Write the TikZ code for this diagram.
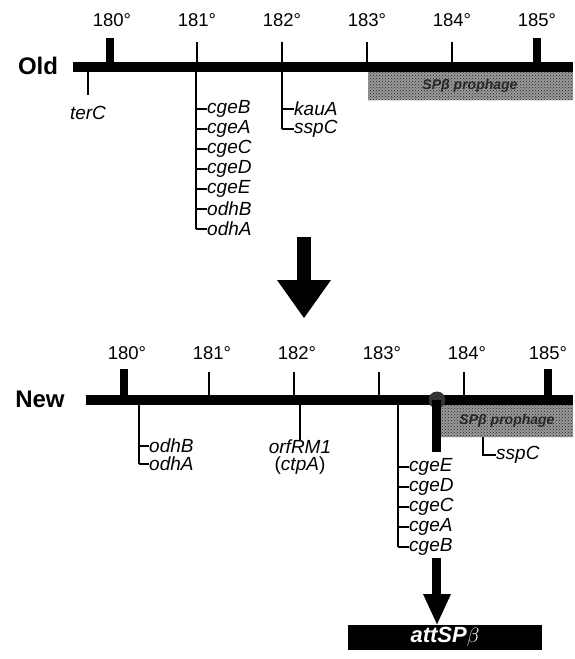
\documentclass[tikz,border=0pt]{standalone}
\usepackage{fontspec}
\setmainfont{Liberation Sans}
\usetikzlibrary{patterns}
\begin{document}
\begin{tikzpicture}[x=1pt,y=-1pt,
  deg/.style={font=\fontsize{18.5}{18.5}\selectfont, inner sep=0pt},
  big/.style={font=\fontsize{24}{24}\selectfont\bfseries, inner sep=0pt},
  gene/.style={font=\fontsize{19}{19}\selectfont\itshape, inner sep=0pt, anchor=west},
  genec/.style={font=\fontsize{19}{19}\selectfont\itshape, inner sep=0pt},
  gline/.style={line width=1.1pt},
  tickline/.style={line width=1.3pt},
  prophage/.style={fill=black!40, postaction={pattern=crosshatch dots, pattern color=black!85}},
  prolabel/.style={font=\fontsize{14}{14}\selectfont\bfseries\itshape, text=black!85, inner sep=0pt},
  attbox/.style={fill=black, text=white, minimum width=194pt, minimum height=25pt, inner sep=0pt,
    font=\fontsize{22}{22}\selectfont\bfseries\itshape}
]
\useasboundingbox (0,0) rectangle (575,659);

% ---------------- Old map ----------------
\node[big] (old) at (38,66) {Old};
\fill (73,62) rectangle (573,72);
\path[prophage] (368,72) rectangle (573,100);
\node[prolabel] (pro1) at (470,86) {SPβ prophage};
\fill (106,38) rectangle (114,62);
\fill (533,38) rectangle (541,62);
\foreach \x in {197,282,367,452} \draw[tickline] (\x,42) -- (\x,62);
\foreach \x/\t in {112/180,197/181,282/182,367/183,452/184,537/185}
  \node[deg] (od\t) at (\x,20) {\t°};

% terC
\coordinate (tc0) at (88,72);
\node[genec] (terC) at (88,113) {terC};
\draw[gline] (tc0) -- (88,95);

% cge list (old)
\coordinate (c0) at (196,72);
\coordinate (cend) at (196,229);
\draw[gline] (c0) -- (cend);
\foreach \g [count=\i from 0] in {cgeB,cgeA,cgeC,cgeD,cgeE,odhB,odhA} {
  \pgfmathsetmacro\yy{109+20*\i}
  \node[gene] (o\g) at (207,\yy) {\g};
  \draw[gline] (196,\yy) -- (o\g.west);
}
% kauA / sspC
\coordinate (k0) at (282,72);
\draw[gline] (k0) -- (282,129);
\node[gene] (okauA) at (294,109) {kauA};
\node[gene] (osspC) at (294,129) {sspC};
\draw[gline] (282,109) -- (okauA.west);
\draw[gline] (282,129) -- (osspC.west);

% big arrow
\fill (297,237) rectangle (311,280);
\fill (277,280) -- (331,280) -- (304,318) -- cycle;

% ---------------- New map ----------------
\node[big] (new) at (40,399) {New};
\fill (86,395) rectangle (573,405);
\path[prophage] (440,405) rectangle (573,437);
\node[prolabel] (pro2) at (507,421) {SPβ prophage};
\fill (120,369) rectangle (128,395);
\fill (544,369) rectangle (552,395);
\foreach \x in {209,294,379,464} \draw[tickline] (\x,372) -- (\x,395);
\foreach \x/\t in {127/180,212/181,297/182,382/183,467/184,548/185}
  \node[deg] (nd\t) at (\x,353) {\t°};

% ball and insertion bar
\fill[black!80] (437,400) circle (8.5);
\fill (432,400) rectangle (441,452);

% odhB / odhA
\draw[gline] (139,405) -- (139,464);
\node[gene] (nodhB) at (149,446) {odhB};
\node[gene] (nodhA) at (149,464) {odhA};
\draw[gline] (139,446) -- (nodhB.west);
\draw[gline] (139,464) -- (nodhA.west);

% orfRM1
\node[genec] (orf) at (300,447) {orfRM1};
\node[genec] (ctp) at (300,466) {\upshape(\itshape ctpA\upshape)};
\draw[gline] (300,405) -- (orf.north);

% cge list (new)
\draw[gline] (398,405) -- (398,547);
\foreach \g [count=\i from 0] in {cgeE,cgeD,cgeC,cgeA,cgeB} {
  \pgfmathsetmacro\yy{467+20*\i}
  \node[gene] (n\g) at (409,\yy) {\g};
  \draw[gline] (398,\yy) -- (n\g.west);
}

% sspC (new)
\node[gene] (nsspC) at (496,455) {sspC};
\draw[gline] (483,437) -- (483,455) -- (nsspC.west);

% arrow to attSPbeta
\node[attbox] (att) at (445,637) {attSP\textmd{\upshape$\beta$}};
\fill (432,558) rectangle (441,594);
\fill (423,594) -- (451,594) -- (att.north -| 437,0) -- cycle;
\end{tikzpicture}
\end{document}
